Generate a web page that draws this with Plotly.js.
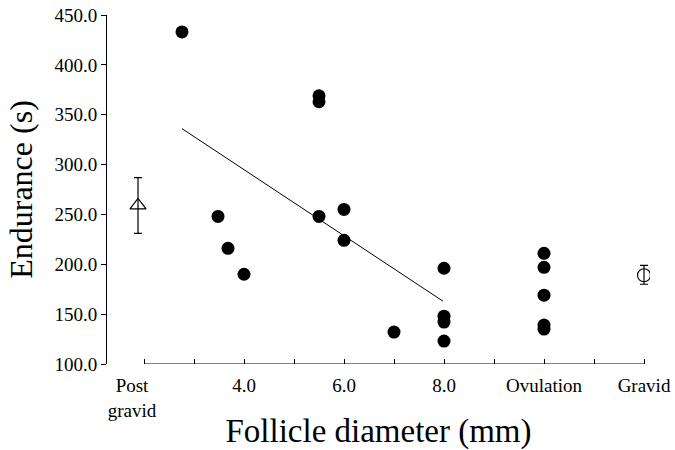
<!DOCTYPE html>
<html>
<head>
<meta charset="utf-8">
<script src="https://cdn.plot.ly/plotly-3.0.1.min.js"></script>
<style>html,body{margin:0;padding:0;background:#fff;}#chart{width:675px;height:450px;}</style>
</head>
<body>
<div id="chart"></div>
<script>
// Follicle diameter (mm) and endurance (s) for individual females
const follicleX = [2.76, 3.48, 3.68, 4.0, 5.5, 5.5, 5.5, 6.0, 6.0, 7.0, 8.0, 8.0, 8.0, 8.0, 10, 10, 10, 10, 10];
const enduranceY = [433, 248, 216, 190, 369, 363, 248, 255, 224, 132, 196, 148, 142, 123, 211, 197, 169, 139, 135];
// Regression line end points
const fitX = [2.76, 7.98];
const fitY = [336, 163];
// Post-gravid mean and error
const postX = [1.88];
const postY = [259];
const postErrPlus = [28];
const postErrMinus = [28];
// Gravid mean and error
const gravidX = [12];
const gravidY = [189];
const gravidErrPlus = [10];
const gravidErrMinus = [9];
// Axis ticks
const xTickMarks = [2, 3, 4, 5, 6, 7, 8, 9, 10, 11, 12];
const xLabelVals = [1.76, 4, 6, 8, 10, 12];
const xLabelText = ["Post<br>gravid", "4.0", "6.0", "8.0", "Ovulation", "Gravid"];
const yTickVals = [100, 150, 200, 250, 300, 350, 400, 450];

const serif = "Liberation Serif, Times New Roman, serif";
const xRange = [1.26, 12.12];

const traces = [
  {x: fitX, y: fitY, xaxis: 'x2', mode: 'lines', line: {color: '#000', width: 1}, hoverinfo: 'skip'},
  {x: follicleX, y: enduranceY, mode: 'markers', marker: {symbol: 'circle', size: 13, color: '#000'}},
  {x: postX, y: postY, mode: 'markers',
   marker: {symbol: 'triangle-up-open', size: 14, color: '#000', line: {width: 1.2}},
   error_y: {type: 'data', symmetric: false, array: postErrPlus, arrayminus: postErrMinus, color: '#000', thickness: 1.2, width: 4}},
  {x: gravidX, y: gravidY, mode: 'markers',
   marker: {symbol: 'circle-open', size: 13, color: '#000', line: {width: 1.2}},
   error_y: {type: 'data', symmetric: false, array: gravidErrPlus, arrayminus: gravidErrMinus, color: '#000', thickness: 1.2, width: 4}}
];

const layout = {
  width: 675, height: 450,
  margin: {l: 107, r: 25, t: 15, b: 86},
  paper_bgcolor: '#fff', plot_bgcolor: '#fff',
  showlegend: false,
  font: {family: serif, color: '#000', size: 19},
  xaxis: {
    range: xRange, showgrid: false, zeroline: false, showline: false,
    tickmode: 'array', tickvals: xTickMarks, showticklabels: false,
    ticks: 'inside', ticklen: 5, tickwidth: 1, tickcolor: '#000'
  },
  xaxis2: {
    overlaying: 'x', anchor: 'y', side: 'bottom',
    range: xRange, showgrid: false, zeroline: false, showline: false,
    tickmode: 'array', tickvals: xLabelVals, ticktext: xLabelText,
    ticks: '', ticklabelstandoff: 8,
    tickfont: {family: serif, size: 19, color: '#000'},
    title: {text: 'Follicle diameter (mm)', font: {family: serif, size: 33, color: '#000'}, standoff: 8}
  },
  yaxis: {
    range: [100, 450], showgrid: false, zeroline: false,
    showline: true, linecolor: '#000', linewidth: 1,
    tickmode: 'array', tickvals: yTickVals, tickformat: '.1f',
    ticks: 'outside', ticklen: 5, tickwidth: 1, tickcolor: '#000',
    tickfont: {family: serif, size: 19, color: '#000'},
    title: {text: 'Endurance (s)', font: {family: serif, size: 32, color: '#000'}, standoff: 12}
  },
  shapes: [
    {type: 'line', xref: 'x', yref: 'y', x0: 2, x1: 12, y0: 100, y1: 100, line: {color: '#000', width: 1}}
  ]
};

Plotly.newPlot('chart', traces, layout, {displayModeBar: false, staticPlot: true});
</script>
</body>
</html>
